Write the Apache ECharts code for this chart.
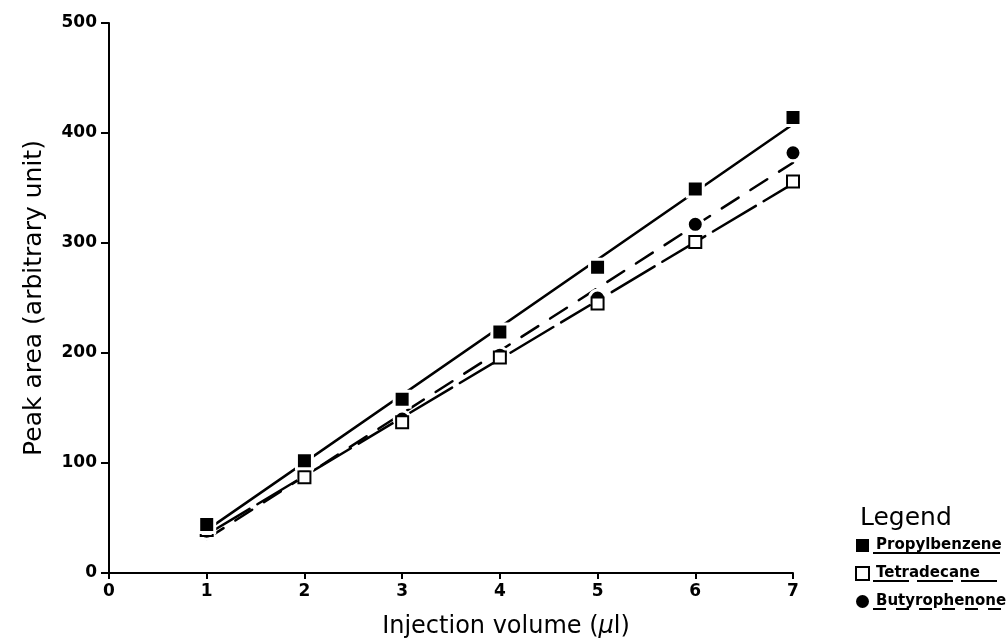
<!DOCTYPE html>
<html>
<head>
<meta charset="utf-8">
<script src="https://cdn.jsdelivr.net/npm/echarts@6/dist/echarts.min.js"></script>
<style>
  html, body { margin: 0; padding: 0; background: #fff; }
  #chart { width: 1006px; height: 640px; }
</style>
</head>
<body>
<div id="chart"></div>
<script>
// Injection volumes (µl) and measured peak areas
const volumes = [1, 2, 3, 4, 5, 6, 7];
const propylbenzene = [44, 102, 158, 219, 278, 349, 414];
const tetradecane = [39, 87, 137, 196, 245, 301, 356];
const butyrophenone = [38, 90, 140, 198, 250, 317, 382];

// Calibration lines: end points at 1 µl and 7 µl
const fitX = [1, 7];
const fitPropylbenzene = [39, 408];
const fitTetradecane = [35, 354];
const fitButyrophenone = [31, 373];

const yTicks = [0, 100, 200, 300, 400, 500];
const xTicks = [0, 1, 2, 3, 4, 5, 6, 7];

const seriesNames = ['Propylbenzene', 'Tetradecane', 'Butyrophenone'];

const pairs = (xs, ys) => xs.map((x, i) => [x, ys[i]]);

const INK = '#000';
const FONT = 'DejaVu Sans';

const chart = echarts.init(document.getElementById('chart'), null, { renderer: 'canvas' });

function fitLine(name, values, dash) {
  return {
    name: name + ' fit',
    type: 'line',
    data: pairs(fitX, values),
    showSymbol: false,
    silent: true,
    z: 2,
    lineStyle: { color: INK, width: 2.5, type: dash, cap: 'round' }
  };
}

chart.setOption({
  animation: false,
  backgroundColor: '#fff',
  grid: { left: 109, right: 213, top: 23, bottom: 67, outerBoundsMode: 'none', containLabel: false },
  title: {
    text: 'Legend',
    left: 855,
    top: 501,
    textStyle: { fontFamily: FONT, fontSize: 25, fontWeight: 'normal', color: INK }
  },
  legend: {
    data: [
      { name: seriesNames[0], itemStyle: { borderWidth: 0 } },
      { name: seriesNames[1] },
      { name: seriesNames[2], itemStyle: { borderWidth: 0 } }
    ],
    orient: 'vertical',
    left: 850,
    top: 533,
    itemWidth: 13,
    itemHeight: 13,
    itemGap: 13,
    textStyle: { fontFamily: FONT, fontSize: 15, fontWeight: 'bold', color: INK, padding: [0, 0, 0, 2] }
  },
  xAxis: {
    type: 'value',
    min: 0,
    max: 7,
    interval: 1,
    name: 'Injection volume ({mu|µ}l)',
    nameLocation: 'middle',
    nameGap: 42,
    nameTextStyle: {
      fontFamily: FONT, fontSize: 24, color: INK,
      padding: [0, 0, 0, 110],
      rich: { mu: { fontFamily: FONT, fontSize: 24, fontStyle: 'italic', color: INK } }
    },
    axisLine: { show: true, onZero: false, lineStyle: { color: INK, width: 2 } },
    axisTick: { show: true, length: 6, inside: false, lineStyle: { color: INK, width: 2 } },
    axisLabel: {
      fontFamily: FONT, fontSize: 17, fontWeight: 'bold', color: INK, margin: 10,
      formatter: v => xTicks.includes(v) ? String(v) : ''
    },
    splitLine: { show: false }
  },
  yAxis: {
    type: 'value',
    min: 0,
    max: 500,
    interval: 100,
    name: 'Peak area (arbitrary unit)',
    nameLocation: 'middle',
    nameGap: 62,
    nameTextStyle: { fontFamily: FONT, fontSize: 25, color: INK },
    axisLine: { show: true, onZero: false, lineStyle: { color: INK, width: 2 } },
    axisTick: { show: true, length: 8, inside: false, lineStyle: { color: INK, width: 2 } },
    axisLabel: {
      fontFamily: FONT, fontSize: 17, fontWeight: 'bold', color: INK, margin: 12,
      formatter: v => yTicks.includes(v) ? String(v) : ''
    },
    splitLine: { show: false }
  },
  series: [
    fitLine('Propylbenzene', fitPropylbenzene, 'solid'),
    fitLine('Tetradecane', fitTetradecane, [50, 9]),
    fitLine('Butyrophenone', fitButyrophenone, [20, 14]),
    {
      name: 'Butyrophenone',
      type: 'scatter',
      data: pairs(volumes, butyrophenone),
      symbol: 'circle',
      symbolSize: 16,
      z: 3,
      itemStyle: { color: INK, borderColor: '#fff', borderWidth: 3, opacity: 1 }
    },
    {
      name: 'Tetradecane',
      type: 'scatter',
      data: pairs(volumes, tetradecane),
      symbol: 'rect',
      symbolSize: 12,
      z: 4,
      itemStyle: { color: '#fff', borderColor: INK, borderWidth: 2, opacity: 1 }
    },
    {
      name: 'Propylbenzene',
      type: 'scatter',
      data: pairs(volumes, propylbenzene),
      symbol: 'rect',
      symbolSize: 16,
      z: 5,
      itemStyle: { color: INK, borderColor: '#fff', borderWidth: 3, opacity: 1 }
    }
  ],
  graphic: [
    // legend underlines, drawn in each series' line style
    { type: 'line', shape: { x1: 873, y1: 553, x2: 1000, y2: 553 }, style: { stroke: INK, lineWidth: 2 } },
    { type: 'line', shape: { x1: 873, y1: 581, x2: 1001, y2: 581 }, style: { stroke: INK, lineWidth: 2, lineDash: [36, 8] } },
    { type: 'line', shape: { x1: 873, y1: 609, x2: 1003, y2: 609 }, style: { stroke: INK, lineWidth: 2, lineDash: [13, 10] } }
  ]
});
</script>
</body>
</html>
